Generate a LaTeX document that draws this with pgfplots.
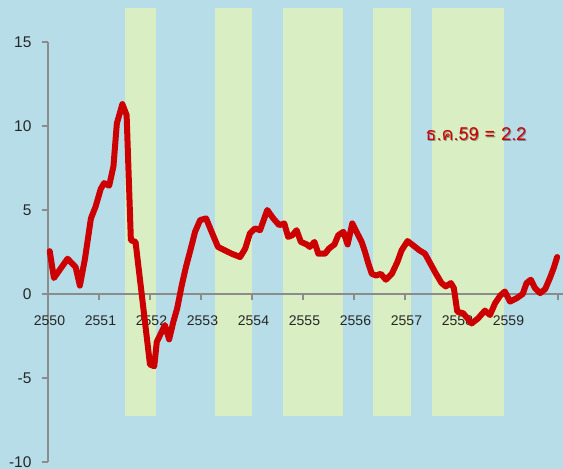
\documentclass[border=0pt]{standalone}
\usepackage{fontspec}
\setmainfont{Liberation Sans}
\newfontfamily\thaifont[Script=Thai]{Loma}
\usepackage{pgfplots}
\pgfplotsset{compat=1.18}
\definecolor{bgblue}{HTML}{B7DDE8}
\definecolor{bandgreen}{HTML}{D9EEC2}
\definecolor{linered}{HTML}{CC0000}
\definecolor{axgray}{HTML}{8C8C8C}
\definecolor{txt}{HTML}{262626}
\begin{document}
\begin{tikzpicture}[x=1pt,y=1pt]
\path[use as bounding box, fill=bgblue] (0,0) rectangle (563,469);
% shaded periods
\begin{axis}[at={(48pt,7pt)}, anchor=south west, scale only axis,
  width=515pt, height=420pt, xmin=0, xmax=121.18, ymin=-10, ymax=15,
  hide axis, clip=false]
\addplot[fill=bandgreen, draw=none] coordinates {(18.1,-7.26) (25.4,-7.26) (25.4,17.02) (18.1,17.02)} -- cycle;
\addplot[fill=bandgreen, draw=none] coordinates {(39.3,-7.26) (48.0,-7.26) (48.0,17.02) (39.3,17.02)} -- cycle;
\addplot[fill=bandgreen, draw=none] coordinates {(55.3,-7.26) (69.4,-7.26) (69.4,17.02) (55.3,17.02)} -- cycle;
\addplot[fill=bandgreen, draw=none] coordinates {(76.5,-7.26) (85.4,-7.26) (85.4,17.02) (76.5,17.02)} -- cycle;
\addplot[fill=bandgreen, draw=none] coordinates {(90.4,-7.26) (107.3,-7.26) (107.3,17.02) (90.4,17.02)} -- cycle;
\end{axis}
\begin{axis}[at={(48pt,7pt)}, anchor=south west, scale only axis,
  width=515pt, height=420pt, xmin=0, xmax=121.18, ymin=-10, ymax=15,
  clip=false,
  axis x line=middle, axis y line=left,
  hide obscured x ticks=false, hide obscured y ticks=false,
  axis line style={axgray, line width=2pt, -},
  xtick={0,12,24,36,48,60,72,84,96,108,120},
  xticklabels={2550,2551,2552,2553,2554,2555,2556,2557,2558,2559,{}},
  ytick={-10,-5,0,5,10,15},
  tick style={axgray, line width=2pt},
  tick align=outside, major tick length=6pt,
  /pgf/number format/assume math mode=true,
  xticklabel style={font=\fontsize{14}{16}\selectfont, text=txt, yshift=-12pt, xshift=1.5pt},
  yticklabel style={font=\fontsize{15.5}{18}\selectfont, text=txt, xshift=-7pt},
]
\addplot[linered, line width=6pt, line join=round, line cap=round] coordinates {
(0.4,2.55) (1.4,0.95) (4.6,2.1) (6.5,1.6) (7.5,0.5) (8.7,2.1) (10.1,4.5) (11.2,5.2)
(12.4,6.25) (13.2,6.6) (14.4,6.45) (15.4,7.6) (16.2,10.15) (17.5,11.3) (18.5,10.65)
(19.5,3.2) (20.6,3.1) (24,-4.2) (25,-4.3) (25.6,-2.85) (27.5,-1.85) (28.5,-2.7)
(29.5,-1.65) (30.4,-0.85) (31.5,0.55) (32.5,1.65) (33.6,2.7) (34.6,3.7) (35.8,4.4)
(37.2,4.5) (38.5,3.7) (40,2.8) (41.6,2.6) (43.2,2.4) (45.2,2.2) (46.4,2.7) (47.5,3.6)
(48.7,3.9) (49.9,3.8) (51.6,5.0) (53,4.5) (54.4,4.1) (55.6,4.2) (56.5,3.4) (57.5,3.5)
(58.5,3.8) (59.5,3.1) (60.9,2.95) (61.6,2.8) (62.7,3.1) (63.6,2.4) (65.2,2.4)
(66.1,2.7) (67.4,2.95) (68.3,3.5) (69.5,3.7) (70.5,2.95) (71.6,4.2) (72.6,3.7)
(73.8,3.1) (74.6,2.5) (75.4,1.8) (76.2,1.2) (77.2,1.1) (78.3,1.2) (79.5,0.85)
(80.9,1.2) (82.2,1.9) (83.2,2.6) (84.6,3.15) (85.9,2.9) (87.4,2.6) (88.7,2.4)
(90,1.8) (91.3,1.2) (92.6,0.65) (93.6,0.45) (94.8,0.65) (95.5,0.35) (96.3,-1.05)
(97.7,-1.15) (99.7,-1.75) (101.2,-1.45) (102.8,-0.99) (104,-1.25) (105.2,-0.55)
(106.4,-0.1) (107.5,0.15) (108.7,-0.45) (110.3,-0.25) (111.7,0.0) (112.6,0.65)
(113.6,0.85) (114.6,0.35) (115.8,0.05) (117,0.3) (118.1,0.95) (119,1.55) (119.8,2.2)
};
\node[text=black, opacity=0.35, font=\thaifont\fontsize{18}{21}\selectfont] at (axis cs:100.95,9.43) {ธ.ค.59 = 2.2};
\node[text=linered, font=\thaifont\fontsize{18}{21}\selectfont] at (axis cs:100.7,9.52) {ธ.ค.59 = 2.2};
\end{axis}
\end{tikzpicture}
\end{document}
